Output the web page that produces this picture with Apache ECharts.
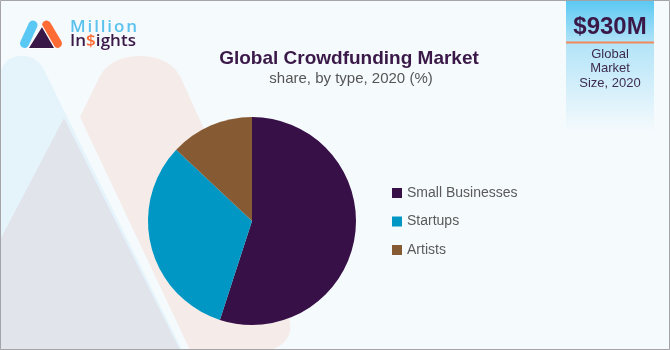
<!DOCTYPE html>
<html>
<head>
<meta charset="utf-8">
<script src="https://cdn.jsdelivr.net/npm/echarts@6/dist/echarts.min.js"></script>
<style>
  html, body { margin: 0; padding: 0; background: #f5fafd; }
  #chart { width: 670px; height: 350px; }
</style>
</head>
<body>
<div id="chart"></div>
<script>
// ---- data ----
const categories = ['Small Businesses', 'Startups', 'Artists'];
const shares = [55, 32, 13];
const sliceColors = ['#371047', '#0097c4', '#865a33'];
const titleText = 'Global Crowdfunding Market';
const subtitleText = 'share, by type, 2020 (%)';
const marketSize = '$930M';
const marketSizeLabel = ['Global', 'Market', 'Size, 2020'];

const chart = echarts.init(document.getElementById('chart'), null, { renderer: 'canvas' });

// letter-spaced text helper (logo)
const mctx = document.createElement('canvas').getContext('2d');
function spaced(str, x0, width, y, font, colorFn) {
  mctx.font = font;
  const ws = [...str].map(c => mctx.measureText(c).width);
  const sum = ws.reduce((a, b) => a + b, 0);
  const s = (width - sum) / (str.length - 1);
  let x = x0;
  return [...str].map((c, i) => {
    const el = {
      type: 'text', z: 10,
      style: { text: c, x: x, y: y, font: font, fill: colorFn(c, i),
        textAlign: 'left', textVerticalAlign: 'middle', align: 'left', verticalAlign: 'middle' }
    };
    x += ws[i] + s;
    return el;
  });
}
// build polygon points from segments (lines + cubic beziers) for decorative shapes
function shapePts(segs) {
  const pts = [];
  let cur = segs[0];
  pts.push(cur);
  for (let k = 1; k < segs.length; k++) {
    const sg = segs[k];
    if (sg.length === 3) {
      const [c1, c2, p] = sg;
      for (let t = 0.1; t <= 1.0001; t += 0.1) {
        const u = 1 - t;
        pts.push([
          u*u*u*cur[0] + 3*u*u*t*c1[0] + 3*u*t*t*c2[0] + t*t*t*p[0],
          u*u*u*cur[1] + 3*u*u*t*c1[1] + 3*u*t*t*c2[1] + t*t*t*p[1]
        ]);
      }
      cur = p;
    } else {
      pts.push(sg);
      cur = sg;
    }
  }
  return pts;
}

const bluePill = shapePts([[0, 350], [0, 78], [[0, 50], [38, 48], [46, 74]], [182, 350]]);
const pinkPill = shapePts([[80, 117], [100, 76], [[112, 50], [166, 48], [180, 76]], [288, 315], [[298, 340], [275, 352], [262, 350]], [190, 350]]);

const graphics = [
  // decorative background (faded logo)
  { type: 'polygon', z: 0, shape: { points: bluePill }, style: { fill: '#e5f4fb' } },
  { type: 'polygon', z: 0, shape: { points: pinkPill }, style: { fill: '#f5ece9' } },
  { type: 'polygon', z: 1, shape: { points: [[64, 118], [0, 240], [0, 350], [180, 350]] }, style: { fill: '#e1e4eb' } },
  // market size box
  { type: 'rect', z: 2, shape: { x: 566, y: 0, width: 88, height: 132 },
    style: { fill: { type: 'linear', x: 0, y: 0, x2: 0, y2: 1, colorStops: [
      { offset: 0, color: '#5ac8f2' }, { offset: 0.33, color: '#b3e4f8' }, { offset: 1, color: '#f5fafd' }] } } },
  { type: 'rect', z: 3, shape: { x: 566, y: 41.5, width: 88, height: 2 }, style: { fill: '#f08a5d' } },
  { type: 'text', z: 4, style: { text: marketSize, x: 610, y: 27, font: 'bold 24px "Liberation Sans", Arial, sans-serif',
      fill: '#3a1848', textAlign: 'center', textVerticalAlign: 'middle', align: 'center', verticalAlign: 'middle' } },
  ...marketSizeLabel.map((t, i) => ({ type: 'text', z: 4, style: { text: t, x: 610, y: 54 + i * 14.5,
      font: '13px "Liberation Sans", Arial, sans-serif', fill: '#3d2c50',
      textAlign: 'center', textVerticalAlign: 'middle', align: 'center', verticalAlign: 'middle' } })),
  // title
  { type: 'text', z: 4, style: { text: titleText, x: 349, y: 59, font: 'bold 19px "Liberation Sans", Arial, sans-serif',
      fill: '#3a1848', textAlign: 'center', textVerticalAlign: 'middle', align: 'center', verticalAlign: 'middle' } },
  { type: 'text', z: 4, style: { text: subtitleText, x: 351, y: 79, font: '15px "Liberation Sans", Arial, sans-serif',
      fill: '#555555', textAlign: 'center', textVerticalAlign: 'middle', align: 'center', verticalAlign: 'middle' } },
  // logo
  { type: 'line', z: 5, shape: { x1: 33, y1: 25, x2: 24.5, y2: 43.5 }, style: { stroke: '#5ac8f5', lineWidth: 9, lineCap: 'round' } },
  { type: 'line', z: 5, shape: { x1: 46.5, y1: 25, x2: 57.5, y2: 43.5 }, style: { stroke: '#ff6b35', lineWidth: 9, lineCap: 'round' } },
  { type: 'polygon', z: 6, shape: { points: [[42, 26], [28, 48.5], [55, 48.5]] }, style: { fill: '#3a1848', stroke: '#ffffff', lineWidth: 1.2 } },
  ...spaced('Million', 70, 67, 27.5, '600 17px "Open Sans", sans-serif', () => '#5bc2ee'),
  ...spaced('In$ights', 70, 66, 41.5, '600 17px "Open Sans", sans-serif', c => c === '$' ? '#ff6b35' : '#3a1848'),
  // frame
  { type: 'rect', z: 20, shape: { x: 0.5, y: 0.5, width: 669, height: 349 }, style: { fill: 'none', stroke: '#a3a3a8', lineWidth: 1 } }
];

const option = {
  backgroundColor: '#f5fafd',
  animation: false,
  graphic: { elements: graphics },
  legend: {
    orient: 'vertical', left: 392, top: 186, padding: 0,
    icon: 'rect', itemWidth: 10, itemHeight: 10, itemGap: 14.5,
    textStyle: { fontSize: 14, color: '#5a5a5a', fontFamily: '"Liberation Sans", Arial, sans-serif' },
    data: categories
  },
  series: [{
    type: 'pie',
    center: [252, 221], radius: 104,
    startAngle: 90, clockwise: true,
    label: { show: false }, labelLine: { show: false },
    emphasis: { disabled: true },
    itemStyle: { borderWidth: 0 },
    data: categories.map((c, i) => ({ name: c, value: shares[i], itemStyle: { color: sliceColors[i] } }))
  }]
};
chart.setOption(option);
</script>
</body>
</html>
